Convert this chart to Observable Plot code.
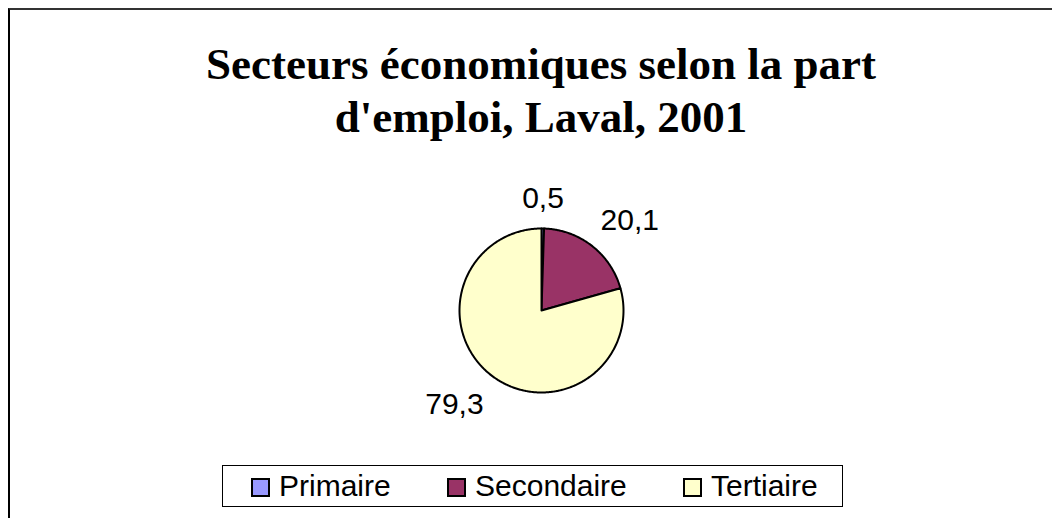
<!DOCTYPE html>
<html>
<head>
<meta charset="utf-8">
<script src="https://cdn.jsdelivr.net/npm/d3@7"></script>
<script src="https://cdn.jsdelivr.net/npm/@observablehq/plot@0.6"></script>
<style>
  html, body { margin: 0; padding: 0; background: #fff; }
  #wrap { position: relative; width: 1052px; height: 518px; overflow: hidden; background: #fff; }
  #frame { position: absolute; left: 8px; top: 8px; width: 1100px; height: 600px; border-left: 2px solid #000; border-top: 2px solid #333; box-sizing: border-box; }
  #title { position: absolute; left: 0; width: 1082px; top: 38px; text-align: center;
           font-family: "Liberation Serif", "DejaVu Serif", serif; font-weight: bold; font-size: 45px; line-height: 53px; color: #000; }
  #chart { position: absolute; left: 0; top: 0; }
  #legend { position: absolute; left: 222px; top: 465px; width: 621px; height: 42px; border: 1px solid #000; box-sizing: border-box;
            font-family: "Liberation Sans", Arial, sans-serif; font-size: 30px; color: #000; }
  .sw { position: absolute; top: 12px; width: 19px; height: 19px; border: 2px solid #000; box-sizing: border-box; }
  .tx { position: absolute; top: 3px; line-height: 34px; white-space: nowrap; }
</style>
</head>
<body>
<div id="wrap">
  <div id="frame"></div>
  <div id="title">Secteurs économiques selon la part<br>d'emploi, Laval, 2001</div>
  <div id="chart"></div>
  <div id="legend"></div>
</div>
<script>
const categories = ["Primaire", "Secondaire", "Tertiaire"];
const values = [0.5, 20.1, 79.3];
const labels = ["0,5", "20,1", "79,3"];
const colors = ["#9999FF", "#993366", "#FFFFCC"];

const data = categories.map((c, i) => ({category: c, value: values[i], label: labels[i]}));
const arcs = d3.pie().sort(null).value(d => d.value)(data);

// polygon points for each slice (unit circle, angle clockwise from top)
const pts = [];
arcs.forEach(a => {
  const n = Math.max(2, Math.ceil((a.endAngle - a.startAngle) / 0.01));
  pts.push({category: a.data.category, x: 0, y: 0});
  for (let k = 0; k <= n; k++) {
    const t = a.startAngle + (a.endAngle - a.startAngle) * k / n;
    pts.push({category: a.data.category, x: Math.sin(t), y: Math.cos(t)});
  }
  pts.push({category: a.data.category, x: 0, y: 0});
});

const padX = 1.17, padY = 1.25;
const labelPts = arcs.map(a => {
  const m = (a.startAngle + a.endAngle) / 2;
  const ux = Math.sin(m), uy = Math.cos(m);
  return {
    label: a.data.label,
    x: ux * padX, y: uy * padY,
    anchor: Math.abs(ux) < 0.15 ? "middle" : (ux > 0 ? "start" : "end"),
    line: uy > 0 ? "bottom" : "top"
  };
});

const cx = 541, cy = 310, r = 82;
const chart = Plot.plot({
  width: 1052,
  height: 518,
  margin: 0,
  x: {domain: [-1, 1], range: [cx - r, cx + r], axis: null},
  y: {domain: [-1, 1], range: [cy + r, cy - r], axis: null},
  color: {domain: categories, range: colors},
  style: {background: "transparent", overflow: "visible"},
  marks: [
    Plot.line(pts, {x: "x", y: "y", z: "category", fill: "category", stroke: "#000", strokeWidth: 2, strokeLinejoin: "round", curve: "linear"}),
    ...["start", "middle", "end"].flatMap(anc => ["top", "bottom"].map(la =>
      Plot.text(labelPts.filter(d => d.anchor === anc && d.line === la), {
        x: "x", y: "y", text: "label", textAnchor: anc, lineAnchor: la,
        fontSize: 30, fontFamily: "Liberation Sans, Arial, sans-serif", fill: "#000"
      })))
  ]
});
document.getElementById("chart").appendChild(chart);

const legend = document.getElementById("legend");
const swLeft = [28, 224, 460];
categories.forEach((c, i) => {
  const sw = document.createElement("div");
  sw.className = "sw";
  sw.style.left = swLeft[i] + "px";
  sw.style.background = colors[i];
  const tx = document.createElement("div");
  tx.className = "tx";
  tx.style.left = (swLeft[i] + 28) + "px";
  tx.textContent = c;
  legend.appendChild(sw); legend.appendChild(tx);
});
</script>
</body>
</html>
